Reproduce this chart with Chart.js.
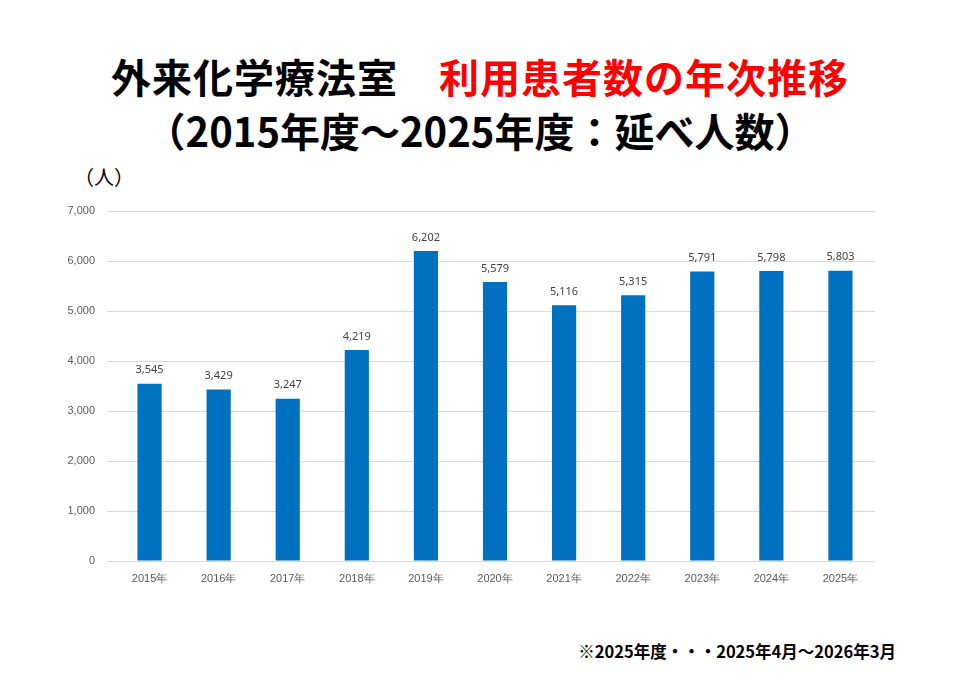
<!DOCTYPE html>
<html><head><meta charset="utf-8">
<script src="https://cdn.jsdelivr.net/npm/chart.js@4"></script>
<style>
body{margin:0;width:960px;height:694px;background:#fff;position:relative;overflow:hidden;font-family:"Noto Sans CJK JP","Noto Sans",sans-serif;}
.t{position:absolute;left:0;width:960px;text-align:center;font-weight:bold;font-size:40px;color:#000;line-height:1}
#c{position:absolute;left:0;top:0}
</style></head><body>
<div class="t" style="top:56px;letter-spacing:1px">外来化学療法室　<span style="color:#ff0000">利用患者数の年次推移</span></div>
<div class="t" style="top:110px">（2015年度～2025年度：延べ人数）</div>
<div style="position:absolute;left:74px;top:162px;font-size:20px">（人）</div>
<div style="position:absolute;right:64px;top:639px;font-size:16.5px;font-weight:bold">※2025年度・・・2025年4月～2026年3月</div>
<canvas id="c" width="960" height="694"></canvas>
<script>
const years = ['2015年','2016年','2017年','2018年','2019年','2020年','2021年','2022年','2023年','2024年','2025年'];
const patients = [3545,3429,3247,4219,6202,5579,5116,5315,5791,5798,5803];

const labelPlugin = {
    id: 'valueLabels',
    afterDatasetsDraw(chart) {
        const ctx = chart.ctx;
        const meta = chart.getDatasetMeta(0);
        ctx.save();
        ctx.font = '11px "Noto Sans", sans-serif';
        ctx.fillStyle = '#404040';
        ctx.textAlign = 'center';
        ctx.textBaseline = 'bottom';
        meta.data.forEach((bar, i) => {
            ctx.fillText(patients[i].toLocaleString('en-US'), bar.x, bar.y - 8);
        });
        ctx.restore();
    }
};

new Chart(document.getElementById('c'), {
    type: 'bar',
    data: { labels: years, datasets: [{ data: patients, backgroundColor: '#0070c0', barPercentage: 0.35, categoryPercentage: 1 }] },
    options: {
        responsive: false,
        animation: false,
        layout: { padding: { left: 65, right: 85, top: 211, bottom: 103 } },
        plugins: { legend: { display: false }, tooltip: { enabled: false } },
        scales: {
            x: {
                afterFit: s => { s.height = 30; },
                grid: { display: false },
                border: { color: '#d9d9d9' },
                ticks: { color: '#595959', font: { size: 11 } }
            },
            y: {
                min: 0, max: 7000,
                afterFit: s => { s.width = 50; },
                grid: { color: '#d9d9d9' },
                border: { display: false },
                ticks: { stepSize: 1000, color: '#595959', font: { size: 11 }, padding: 12,
                    callback: v => v.toLocaleString('en-US') }
            }
        }
    },
    plugins: [labelPlugin]
});
</script>
</body></html>
